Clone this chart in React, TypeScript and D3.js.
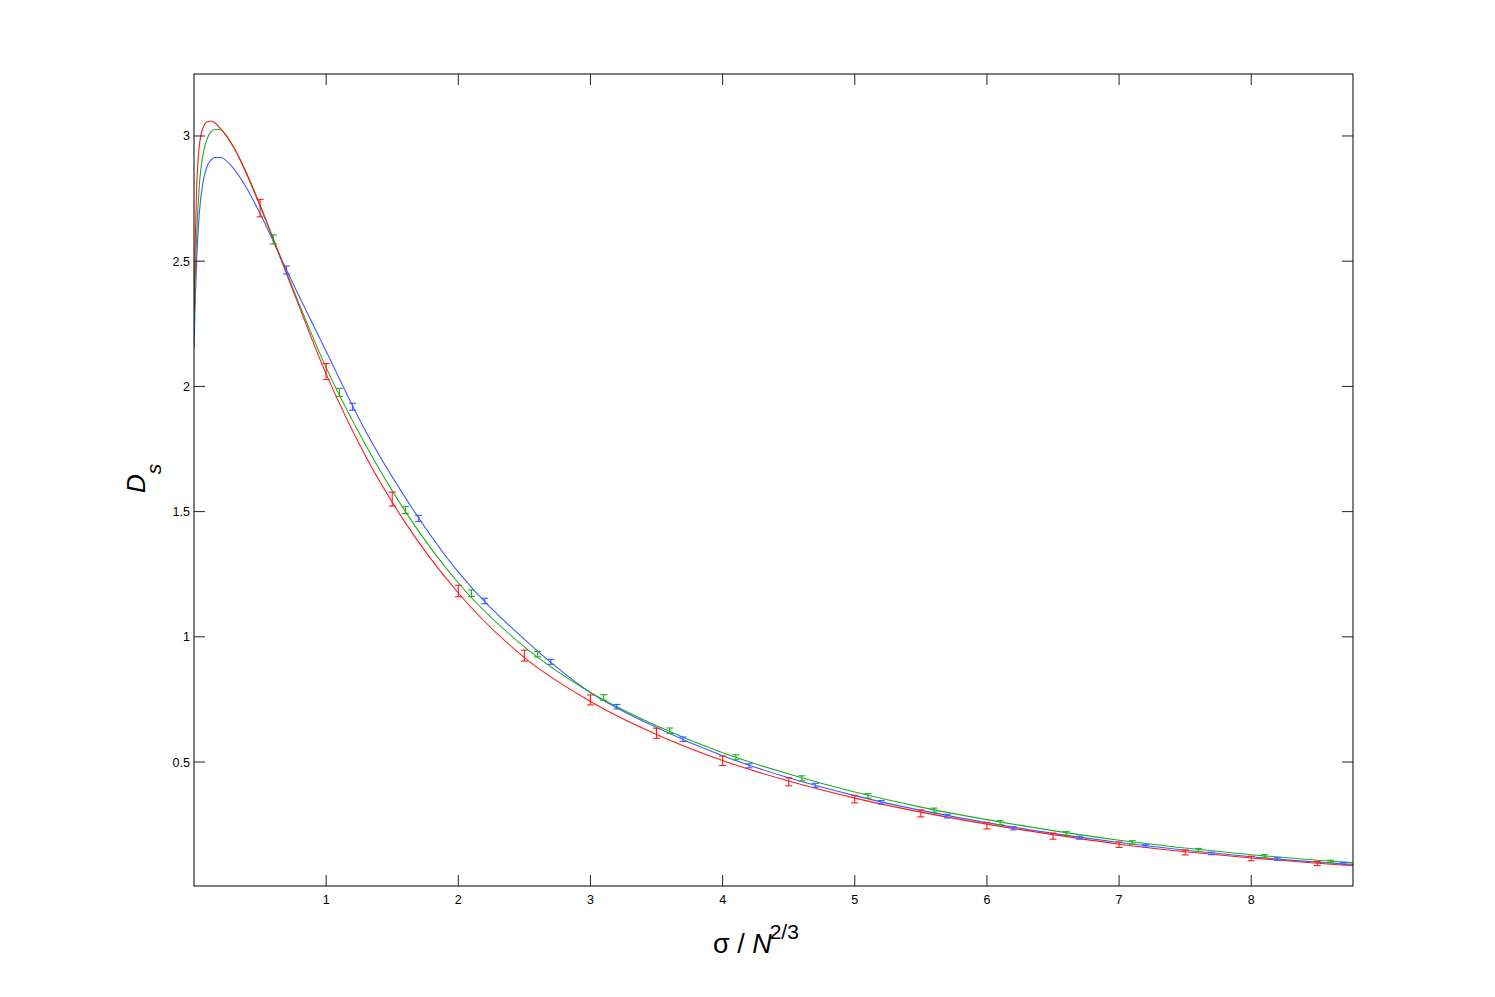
import React from 'react';
import * as d3 from 'd3';

// measured points (error bar centres) per series
const redX = [0.5, 1.0, 1.5, 2.0, 2.5, 3.0, 3.5, 4.0, 4.5, 5.0, 5.5, 6.0, 6.5, 7.0, 7.5, 8.0, 8.5];
const redY = [2.712, 2.059, 1.55, 1.183, 0.925, 0.748, 0.615, 0.505, 0.421, 0.352, 0.295, 0.246, 0.204, 0.17, 0.139, 0.115, 0.095];
const redErr = [0.035, 0.032, 0.028, 0.023, 0.022, 0.02, 0.02, 0.019, 0.016, 0.015, 0.014, 0.013, 0.012, 0.011, 0.01, 0.009, 0.008];

const greenX = [0.6, 1.1, 1.6, 2.1, 2.6, 3.1, 3.6, 4.1, 4.6, 5.1, 5.6, 6.1, 6.6, 7.1, 7.6, 8.1, 8.6];
const greenY = [2.587, 1.976, 1.506, 1.174, 0.931, 0.758, 0.625, 0.519, 0.435, 0.365, 0.308, 0.258, 0.215, 0.179, 0.149, 0.125, 0.103];
const greenErr = [0.018, 0.016, 0.014, 0.013, 0.011, 0.011, 0.011, 0.01, 0.01, 0.009, 0.008, 0.008, 0.007, 0.007, 0.006, 0.005, 0.005];

const blueX = [0.7, 1.2, 1.7, 2.2, 2.7, 3.2, 3.7, 4.2, 4.7, 5.2, 5.7, 6.2, 6.7, 7.2, 7.7, 8.2, 8.7];
const blueY = [2.465, 1.919, 1.473, 1.143, 0.9, 0.721, 0.591, 0.485, 0.407, 0.339, 0.284, 0.235, 0.198, 0.165, 0.135, 0.113, 0.095];
const blueErr = [0.016, 0.014, 0.012, 0.011, 0.01, 0.009, 0.009, 0.008, 0.008, 0.007, 0.007, 0.006, 0.006, 0.005, 0.005, 0.005, 0.004];

// fitted curves
const curveX = [0, 0.01, 0.02, 0.04, 0.07, 0.1, 0.13, 0.16, 0.2, 0.3, 0.4, 0.5, 0.7, 1.0, 1.3, 1.6, 2.0, 2.5, 3.0, 3.5, 4.0, 4.5, 5.0, 5.5, 6.0, 6.5, 7.0, 7.5, 8.0, 8.5, 8.77];
const redCurve = [2.3, 2.6, 2.79, 2.96, 3.035, 3.057, 3.06, 3.052, 3.03, 2.955, 2.845, 2.72, 2.45, 2.05, 1.72, 1.455, 1.175, 0.917, 0.742, 0.61, 0.506, 0.424, 0.356, 0.3, 0.252, 0.21, 0.172, 0.142, 0.117, 0.096, 0.086];
const greenCurve = [2.25, 2.45, 2.6, 2.8, 2.93, 2.99, 3.017, 3.027, 3.025, 2.955, 2.85, 2.725, 2.455, 2.075, 1.765, 1.5, 1.215, 0.96, 0.778, 0.645, 0.537, 0.452, 0.38, 0.32, 0.27, 0.226, 0.188, 0.157, 0.13, 0.108, 0.098];
const blueCurve = [2.15, 2.35, 2.5, 2.69, 2.82, 2.88, 2.905, 2.914, 2.914, 2.87, 2.79, 2.69, 2.465, 2.14, 1.82, 1.555, 1.258, 0.99, 0.778, 0.638, 0.525, 0.437, 0.366, 0.307, 0.258, 0.215, 0.179, 0.148, 0.122, 0.1, 0.091];

const xTicks = [1, 2, 3, 4, 5, 6, 7, 8];
const yTicks = [0.5, 1, 1.5, 2, 2.5, 3];

const series = [
  { color: '#3a5cff', xs: blueX, ys: blueY, errs: blueErr, curve: blueCurve },
  { color: '#22aa22', xs: greenX, ys: greenY, errs: greenErr, curve: greenCurve },
  { color: '#ff1a1a', xs: redX, ys: redY, errs: redErr, curve: redCurve },
];

export default function App() {
  const width = 1495;
  const height = 997;
  const left = 194, right = 1353, top = 74, bottom = 886;

  const xScale = d3.scaleLinear().domain([0, 8.77]).range([left, right]);
  const yScale = d3.scaleLinear().domain([0.005, 3.2475]).range([bottom, top]);

  const line = d3.line<number>()
    .x((_, i) => xScale(curveX[i]))
    .y(d => yScale(d))
    .curve(d3.curveMonotoneX);

  const fmt = d3.format('~g');
  const tickLen = 11;
  const cap = 3.5;
  const font = '"Liberation Sans", Arial, Helvetica, sans-serif';

  return (
    <svg width={width} height={height} style={{ position: 'absolute', left: 0, top: 0, background: '#fff' }}>
      <defs>
        <clipPath id="plotclip">
          <rect x={left} y={top} width={right - left} height={bottom - top} />
        </clipPath>
      </defs>

      <g clipPath="url(#plotclip)">
        {series.map(s => (
          <path key={s.color + 'c'} d={line(s.curve) || ''} fill="none" stroke={s.color} strokeWidth={1.1} />
        ))}
        {series.map(s => (
          <g key={s.color + 'e'} stroke={s.color} strokeWidth={1.1}>
            {s.xs.map((x, i) => {
              const cx = xScale(x);
              const y1 = yScale(s.ys[i] + s.errs[i]);
              const y2 = yScale(s.ys[i] - s.errs[i]);
              return (
                <g key={i}>
                  <line x1={cx} x2={cx} y1={y1} y2={y2} />
                  <line x1={cx - cap} x2={cx + cap} y1={y1} y2={y1} />
                  <line x1={cx - cap} x2={cx + cap} y1={y2} y2={y2} />
                </g>
              );
            })}
          </g>
        ))}
      </g>

      {/* frame */}
      <rect x={left} y={top} width={right - left} height={bottom - top} fill="none" stroke="#000" strokeWidth={1} />

      {/* x ticks, inward on bottom and top */}
      {xTicks.map(t => (
        <g key={'x' + t}>
          <line x1={xScale(t)} x2={xScale(t)} y1={bottom} y2={bottom - tickLen} stroke="#222" />
          <line x1={xScale(t)} x2={xScale(t)} y1={top} y2={top + tickLen} stroke="#222" />
          <text x={xScale(t)} y={904} textAnchor="middle" fontFamily={font} fontSize={12.5} fill="#000">{fmt(t)}</text>
        </g>
      ))}

      {/* y ticks, inward on left and right */}
      {yTicks.map(t => (
        <g key={'y' + t}>
          <line x1={left} x2={left + tickLen} y1={yScale(t)} y2={yScale(t)} stroke="#222" />
          <line x1={right} x2={right - tickLen} y1={yScale(t)} y2={yScale(t)} stroke="#222" />
          <text x={left - 4} y={yScale(t) + 4.5} textAnchor="end" fontFamily={font} fontSize={12.5} fill="#000">{fmt(t)}</text>
        </g>
      ))}

      {/* x axis label */}
      <text x={713} y={953} fontFamily={font} fontSize={27} fill="#000">
        <tspan>σ / </tspan>
        <tspan fontStyle="italic">N</tspan>
        <tspan fontSize={21} dy={-14} dx={-2}>2/3</tspan>
      </text>

      {/* y axis label */}
      <text transform="translate(145,493) rotate(-90)" fontFamily={font} fontSize={26} fill="#000">
        <tspan fontStyle="italic">D</tspan>
        <tspan fontSize={21} dy={16} fontStyle="italic">s</tspan>
      </text>
    </svg>
  );
}
